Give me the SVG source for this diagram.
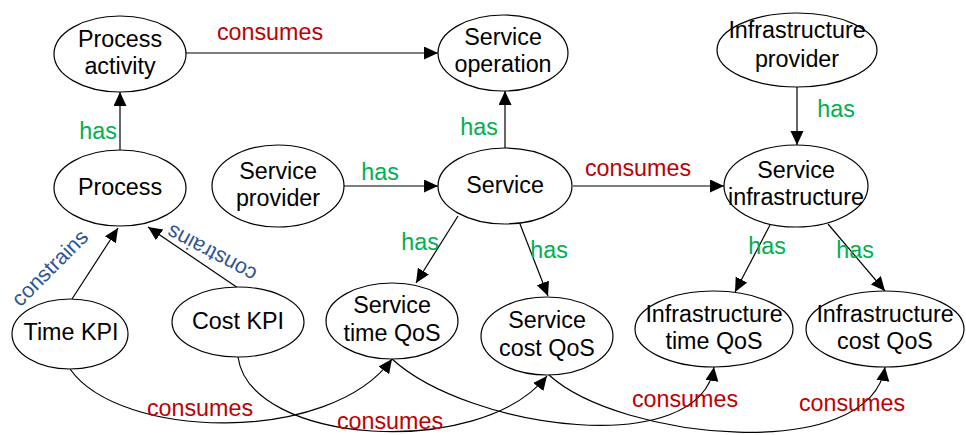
<svg xmlns="http://www.w3.org/2000/svg" width="966" height="435" viewBox="0 0 966 435">
  <style>
    .node ellipse { fill: #ffffff; stroke: #000000; stroke-width: 1.2; }
    .node text { font-family: "Liberation Sans", Arial, sans-serif; font-size: 23.3px; fill: #000000; text-anchor: middle; }
    .edge { fill: none; stroke: #000000; stroke-width: 1.2; marker-end: url(#arrow); }
    .lbl { font-family: "Liberation Sans", Arial, sans-serif; font-size: 23.3px; text-anchor: middle; }
    .has { fill: #00b050; }
    .consumes { fill: #c00000; }
    .constrains { fill: #2f5597; font-size: 21.5px; }
  </style>
  <defs>
    <marker id="arrow" markerUnits="userSpaceOnUse" markerWidth="16" markerHeight="14" refX="14" refY="6.5" orient="auto">
      <path d="M0,0 L14,6.5 L0,13 z" fill="#000000"/>
    </marker>
  </defs>

  <rect width="966" height="435" fill="#ffffff"/>

  <!-- connectors -->
  <g id="connectors">
    <path class="edge" d="M186,53 L438,53"/>
    <path class="edge" d="M120,150 L120,92"/>
    <path class="edge" d="M344,186 L438,186"/>
    <path class="edge" d="M505,148 L505,91"/>
    <path class="edge" d="M797,87 L797,145"/>
    <path class="edge" d="M573,186 L724,186"/>
    <path class="edge" d="M458,216 L416,283"/>
    <path class="edge" d="M520,224 L548,296"/>
    <path class="edge" d="M770,225 L735,292"/>
    <path class="edge" d="M828,224 L885,291"/>
    <path class="edge" d="M72,299 L118,228"/>
    <path class="edge" d="M238,288 L148,227"/>
    <path class="edge" d="M70,369 C120,440 330,445 392,359"/>
    <path class="edge" d="M238,357 C250,445 480,460 547,376"/>
    <path class="edge" d="M392,359 C470,430 700,460 714,367"/>
    <path class="edge" d="M549,375 C620,440 870,465 885,367"/>

    <!-- connector labels -->
    <text class="lbl consumes" x="270" y="40">consumes</text>
    <text class="lbl has" x="98" y="139">has</text>
    <text class="lbl has" x="479" y="135">has</text>
    <text class="lbl has" x="836" y="117">has</text>
    <text class="lbl has" x="380" y="180">has</text>
    <text class="lbl consumes" x="638" y="176">consumes</text>
    <text class="lbl has" x="420" y="250">has</text>
    <text class="lbl has" x="549" y="258">has</text>
    <text class="lbl has" x="767" y="254">has</text>
    <text class="lbl has" x="855" y="258">has</text>
    <text class="lbl constrains" x="55" y="273" transform="rotate(-45 55 273)">constrains</text>
    <text class="lbl constrains" x="215" y="247" transform="rotate(208 215 247)">constrains</text>
    <text class="lbl consumes" x="200" y="416">consumes</text>
    <text class="lbl consumes" x="390" y="429">consumes</text>
    <text class="lbl consumes" x="685" y="407">consumes</text>
    <text class="lbl consumes" x="852" y="411">consumes</text>
  </g>

  <!-- nodes -->
  <g id="process-activity" class="node">
    <ellipse cx="120" cy="54" rx="66" ry="38"/>
    <text x="120" y="47">Process</text>
    <text x="120" y="74">activity</text>
  </g>
  <g id="service-operation" class="node">
    <ellipse cx="503" cy="53" rx="65" ry="38"/>
    <text x="503" y="45">Service</text>
    <text x="503" y="72">operation</text>
  </g>
  <g id="infrastructure-provider" class="node">
    <ellipse cx="797" cy="50" rx="80" ry="37"/>
    <text x="797" y="38">Infrastructure</text>
    <text x="797" y="67">provider</text>
  </g>
  <g id="process" class="node">
    <ellipse cx="120" cy="188" rx="66" ry="38"/>
    <text x="120" y="195">Process</text>
  </g>
  <g id="service-provider" class="node">
    <ellipse cx="278" cy="186" rx="66" ry="41"/>
    <text x="278" y="179">Service</text>
    <text x="278" y="206">provider</text>
  </g>
  <g id="service" class="node">
    <ellipse cx="505" cy="186" rx="67" ry="38"/>
    <text x="505" y="193">Service</text>
  </g>
  <g id="service-infrastructure" class="node">
    <ellipse cx="796" cy="186" rx="72" ry="41"/>
    <text x="796" y="178">Service</text>
    <text x="796" y="205">infrastructure</text>
  </g>
  <g id="time-kpi" class="node">
    <ellipse cx="70" cy="334" rx="58" ry="35"/>
    <text x="71" y="340">Time KPI</text>
  </g>
  <g id="cost-kpi" class="node">
    <ellipse cx="238" cy="322" rx="66" ry="35"/>
    <text x="238" y="329">Cost KPI</text>
  </g>
  <g id="service-time-qos" class="node">
    <ellipse cx="392" cy="321" rx="66" ry="38"/>
    <text x="392" y="313">Service</text>
    <text x="392" y="341">time QoS</text>
  </g>
  <g id="service-cost-qos" class="node">
    <ellipse cx="547" cy="336" rx="66" ry="39"/>
    <text x="547" y="328">Service</text>
    <text x="547" y="356">cost QoS</text>
  </g>
  <g id="infrastructure-time-qos" class="node">
    <ellipse cx="714" cy="329" rx="79" ry="38"/>
    <text x="714" y="322">Infrastructure</text>
    <text x="714" y="349">time QoS</text>
  </g>
  <g id="infrastructure-cost-qos" class="node">
    <ellipse cx="885" cy="329" rx="79" ry="38"/>
    <text x="885" y="322">Infrastructure</text>
    <text x="885" y="349">cost QoS</text>
  </g>
</svg>
